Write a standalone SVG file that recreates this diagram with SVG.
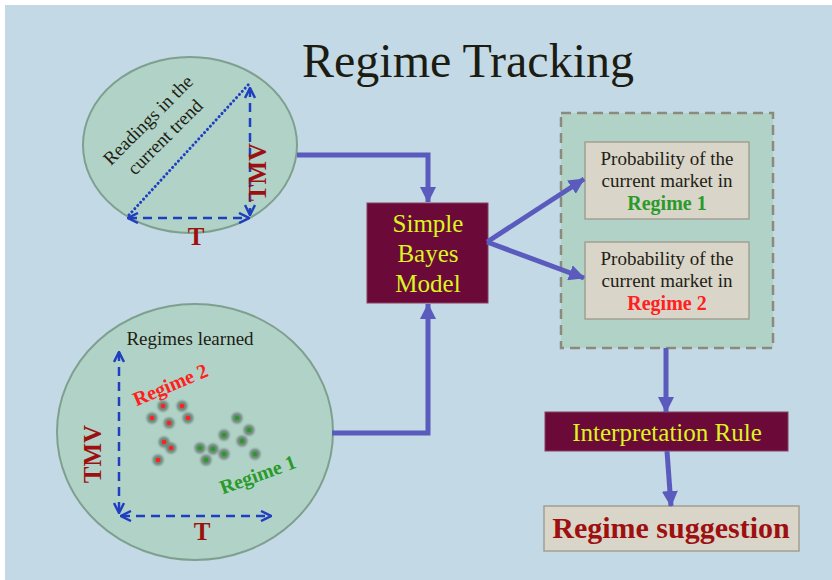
<svg xmlns="http://www.w3.org/2000/svg" width="832" height="580" viewBox="0 0 832 580" font-family="'Liberation Serif','Times New Roman',serif">
<defs>
<style>
text{font-family:"Liberation Serif","Times New Roman",serif}
.blob{fill:#b1d3c7;stroke:#7f9f8f;stroke-width:2}
.axis{fill:none;stroke:#1f3fc0;stroke-width:2.5;stroke-dasharray:9,6}
.conn{fill:none;stroke:#5b5bbd;stroke-width:5}
.maroon{fill:#6b0a38;stroke:#8a4060;stroke-width:1}
.beige{fill:#d9d5c9;stroke:#a39f92;stroke-width:1.5}
.lime{fill:#dcf520;font-size:25px;text-anchor:middle}
.dark{fill:#1e1e14;font-size:19px;text-anchor:middle}
.axl{fill:#9e1010;font-size:25px;font-weight:bold;text-anchor:middle}
.rlab{font-size:20px;font-weight:bold;text-anchor:middle}
.green{fill:#2a9a2a}
.red{fill:#ff2020}
.halo{fill:#6a8075;opacity:0.9}
</style>
<marker id="chev" viewBox="0 0 12 12" refX="11" refY="6" markerWidth="12" markerHeight="12" markerUnits="userSpaceOnUse" orient="auto-start-reverse">
<path d="M1,1 L11,6 L1,11" fill="none" stroke="#1f3fc0" stroke-width="2.5"/>
</marker>
<marker id="tri" viewBox="0 0 16 16" refX="15" refY="8" markerWidth="16" markerHeight="16" markerUnits="userSpaceOnUse" orient="auto">
<path d="M0,0 L16,8 L0,16 Z" fill="#5b5bbd"/>
</marker>
<filter id="soft" x="-1" y="-1" width="3" height="3"><feGaussianBlur stdDeviation="1"/></filter>
</defs>
<rect x="5" y="5" width="827" height="575" fill="#c3d9e6"/>
<text id="title" x="468" y="77" font-size="48" text-anchor="middle" fill="#1c1c12">Regime Tracking</text>

<g id="trend-circle">
<ellipse cx="190" cy="145" rx="107" ry="88" class="blob"/>
<line x1="129" y1="215" x2="249" y2="84" stroke="#1f3fc0" stroke-width="3" stroke-dasharray="0.1,4.2" stroke-linecap="round"/>
<line x1="250" y1="88" x2="250" y2="215" class="axis" marker-start="url(#chev)" marker-end="url(#chev)"/>
<line x1="128" y1="218" x2="249" y2="218" class="axis" marker-start="url(#chev)" marker-end="url(#chev)"/>
<g transform="translate(156,128) rotate(-45)">
<text x="0" y="-5" class="dark">Readings in the</text>
<text x="0" y="19" class="dark">current trend</text>
</g>
<text x="196" y="245" class="axl">T</text>
<text transform="translate(266,172) rotate(-90)" class="axl">TMV</text>
</g>

<g id="regimes-circle">
<ellipse cx="195" cy="432" rx="138" ry="128" class="blob"/>
<text x="190" y="345" class="dark">Regimes learned</text>
<line x1="119" y1="352" x2="119" y2="513" class="axis" marker-start="url(#chev)" marker-end="url(#chev)"/>
<line x1="121" y1="516" x2="271" y2="516" class="axis" marker-start="url(#chev)" marker-end="url(#chev)"/>
<text transform="translate(101,454) rotate(-90)" class="axl">TMV</text>
<text x="202" y="540" class="axl">T</text>
<text transform="translate(173,391) rotate(-23)" class="rlab red">Regime 2</text>
<text transform="translate(260,481) rotate(-20)" class="rlab green">Regime 1</text>
<g filter="url(#soft)" class="halo">
<circle cx="163" cy="406" r="5.5"/><circle cx="182" cy="406" r="5.5"/><circle cx="152" cy="418" r="5.5"/><circle cx="169" cy="423" r="5.5"/><circle cx="188" cy="418" r="5.5"/><circle cx="164" cy="442" r="5.5"/><circle cx="171" cy="448" r="5.5"/><circle cx="158" cy="460" r="5.5"/>
<circle cx="237" cy="418" r="5.5"/><circle cx="249" cy="430" r="5.5"/><circle cx="224" cy="435" r="5.5"/><circle cx="242" cy="441" r="5.5"/><circle cx="200" cy="448" r="5.5"/><circle cx="213" cy="449" r="5.5"/><circle cx="224" cy="454" r="5.5"/><circle cx="206" cy="460" r="5.5"/><circle cx="255" cy="454" r="5.5"/>
</g>
<g class="red">
<circle cx="163" cy="406" r="2.3"/><circle cx="182" cy="406" r="2.3"/><circle cx="152" cy="418" r="2.3"/><circle cx="169" cy="423" r="2.3"/><circle cx="188" cy="418" r="2.3"/><circle cx="164" cy="442" r="2.3"/><circle cx="171" cy="448" r="2.3"/><circle cx="158" cy="460" r="2.3"/>
</g>
<g class="green">
<circle cx="237" cy="418" r="2.3"/><circle cx="249" cy="430" r="2.3"/><circle cx="224" cy="435" r="2.3"/><circle cx="242" cy="441" r="2.3"/><circle cx="200" cy="448" r="2.3"/><circle cx="213" cy="449" r="2.3"/><circle cx="224" cy="454" r="2.3"/><circle cx="206" cy="460" r="2.3"/><circle cx="255" cy="454" r="2.3"/>
</g>
</g>

<g id="bayes">
<rect x="367" y="203" width="121" height="100" class="maroon"/>
<text x="428" y="232" class="lime">Simple</text>
<text x="428" y="262" class="lime">Bayes</text>
<text x="428" y="292" class="lime">Model</text>
</g>

<g id="probabilities">
<rect x="561" y="113" width="212" height="235" fill="#b1d3c7" stroke="#8c8a7c" stroke-width="2.5" stroke-dasharray="10,6"/>
<g id="prob1">
<rect x="585" y="142" width="164" height="77" class="beige"/>
<text x="667" y="165" class="dark">Probability of the</text>
<text x="667" y="187" class="dark">current market in</text>
<text x="667" y="210" class="rlab green" font-size="19">Regime 1</text>
</g>
<g id="prob2">
<rect x="585" y="242" width="164" height="77" class="beige"/>
<text x="667" y="265" class="dark">Probability of the</text>
<text x="667" y="287" class="dark">current market in</text>
<text x="667" y="310" class="rlab red" font-size="19">Regime 2</text>
</g>
</g>

<g id="interpretation">
<rect x="545" y="412" width="243" height="39" class="maroon"/>
<text x="667" y="441" class="lime">Interpretation Rule</text>
</g>

<g id="suggestion">
<rect x="544" y="506" width="255" height="45" class="beige"/>
<text x="671" y="538" font-size="30" font-weight="bold" fill="#9e1010" text-anchor="middle">Regime suggestion</text>
</g>

<g id="connectors">
<path d="M297,155 H428 V202" class="conn" marker-end="url(#tri)"/>
<path d="M332,433 H428 V304" class="conn" marker-end="url(#tri)"/>
<line x1="487" y1="242" x2="584" y2="179" class="conn" marker-end="url(#tri)"/>
<line x1="487" y1="242" x2="584" y2="278" class="conn" marker-end="url(#tri)"/>
<line x1="666" y1="348" x2="666" y2="412" class="conn" marker-end="url(#tri)"/>
<line x1="667" y1="451" x2="671" y2="506" class="conn" marker-end="url(#tri)"/>
</g>
</svg>
